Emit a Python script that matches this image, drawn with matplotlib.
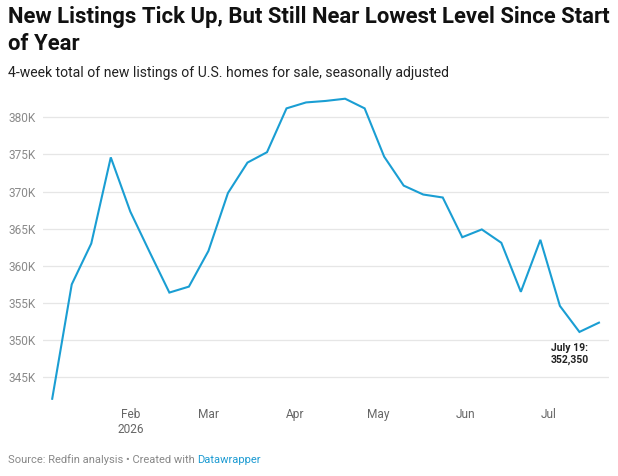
import matplotlib
matplotlib.use("Agg")
import matplotlib.pyplot as plt
import matplotlib.dates as mdates
from matplotlib.ticker import FuncFormatter
import pandas as pd

plt.rcParams['font.family'] = ['Roboto', 'DejaVu Sans']

# ---- data ----
week_dates = ["2026-01-04", "2026-01-11", "2026-01-18", "2026-01-25",
              "2026-02-01", "2026-02-08", "2026-02-15", "2026-02-22",
              "2026-03-01", "2026-03-08", "2026-03-15", "2026-03-22", "2026-03-29",
              "2026-04-05", "2026-04-12", "2026-04-19", "2026-04-26",
              "2026-05-03", "2026-05-10", "2026-05-17", "2026-05-24", "2026-05-31",
              "2026-06-07", "2026-06-14", "2026-06-21", "2026-06-28",
              "2026-07-05", "2026-07-12", "2026-07-19"]
new_listings = [342100, 357500, 363000, 374600, 367300, 361800, 356400, 357200,
                362000, 369800, 373900, 375300, 381200, 382000, 382200, 382500,
                381200, 374700, 370800, 369600, 369200, 363850, 364900, 363100,
                356500, 363500, 354600, 351100, 352350]
y_ticks = [345000, 350000, 355000, 360000, 365000, 370000, 375000, 380000]
x_tick_dates = ["2026-02-01", "2026-03-01", "2026-04-01", "2026-05-01", "2026-06-01", "2026-07-01"]
x_tick_labels = ["Feb\n2026", "Mar", "Apr", "May", "Jun", "Jul"]
annotation_text = "July 19:\n352,350"

title = "New Listings Tick Up, But Still Near Lowest Level Since Start\nof Year"
subtitle = "4-week total of new listings of U.S. homes for sale, seasonally adjusted"

W, H = 618, 476
fig = plt.figure(figsize=(W / 100, H / 100), dpi=100)
fig.patch.set_facecolor('white')

ax = fig.add_axes([43 / W, 1 - 401 / H, (609 - 43) / W, (401 - 95) / H])
dates = pd.to_datetime(week_dates)
ax.plot(dates, new_listings, color='#1a9ed3', lw=1.5, solid_joinstyle='miter', zorder=3)

ax.set_ylim(341800, 383000)
ax.set_xlim(pd.Timestamp("2026-01-04") - pd.Timedelta(days=3.3),
            pd.Timestamp("2026-07-19") + pd.Timedelta(days=3.6))
ax.set_yticks(y_ticks)
ax.yaxis.set_major_formatter(FuncFormatter(lambda v, p: f"{int(v/1000)}K"))
ax.set_xticks(pd.to_datetime(x_tick_dates))
ax.set_xticklabels(x_tick_labels)

for s in ax.spines.values():
    s.set_visible(False)
ax.grid(axis='y', color='#e6e6e6', lw=0.9)
ax.grid(axis='x', visible=False)
ax.tick_params(axis='both', length=0, labelsize=8.6, colors='#8a8a8a')
ax.tick_params(axis='y', pad=5)
ax.tick_params(axis='x', pad=5)
for lbl in ax.get_xticklabels():
    lbl.set_color('#666666')
    lbl.set_linespacing(1.25)

ax.annotate(annotation_text, xy=(dates[-1], new_listings[-1]),
            xytext=(-48, -20), textcoords='offset pixels',
            ha='left', va='top', fontsize=7.5, fontweight='bold',
            color='#222222', linespacing=1.2)

fig.text(8 / W, 1 - 6 / H, title, ha='left', va='top', fontsize=15.9,
         fontweight='bold', color='#111111', linespacing=1.32)
fig.text(8 / W, 1 - 66 / H, subtitle, ha='left', va='top', fontsize=10.1,
         color='#222222')

t1 = fig.text(8 / W, 1 - 460 / H, "Source: Redfin analysis \u2022 Created with ",
              ha='left', va='center', fontsize=8, color='#888888')
fig.canvas.draw()
bb = t1.get_window_extent()
fig.text(bb.x1 / W, 1 - 460 / H, "Datawrapper", ha='left', va='center',
         fontsize=8, color='#1d9bd2')

fig.savefig("out.png", dpi=100, facecolor='white')
